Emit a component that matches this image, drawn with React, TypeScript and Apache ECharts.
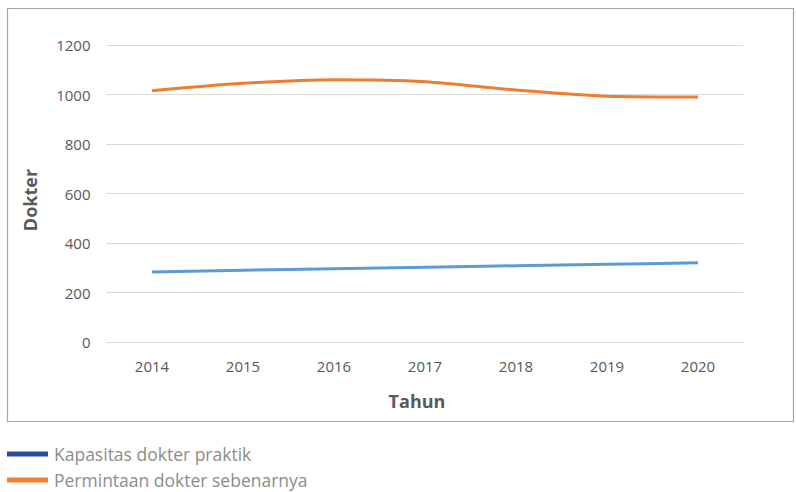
import React, { useEffect, useRef } from "react";
import * as echarts from "echarts";

const years = ["2014", "2015", "2016", "2017", "2018", "2019", "2020"];
const kapasitas = [283, 290, 296, 302, 308, 314, 320];
const permintaan = [1015, 1045, 1060, 1052, 1018, 993, 990];
const seriesNames = ["Kapasitas dokter praktik", "Permintaan dokter sebenarnya"];
const lineColors = ["#5b9bd5", "#ed7d31"];
const legendColors = ["#2e4a9b", "#f08131"];
const xTitle = "Tahun";
const yTitle = "Dokter";

const FONT = "'Open Sans', 'Noto Sans', sans-serif";

export default function App() {
  const ref = useRef<HTMLDivElement>(null);
  useEffect(() => {
    document.body.style.margin = "0";
    const chart = echarts.init(ref.current!, null, { renderer: "svg" });
    const legendTops = [445, 471];
    chart.setOption({
      animation: false,
      textStyle: { fontFamily: FONT },
      grid: { left: 106.5, right: 52.5, top: 45, bottom: 150 },
      graphic: [
        {
          type: "rect",
          shape: { x: 7.5, y: 8.5, width: 786, height: 413 },
          style: { fill: "none", stroke: "#a6a6a6", lineWidth: 1.2 },
          silent: true,
        },
        {
          type: "text",
          x: 417,
          y: 401,
          style: {
            text: xTitle,
            fill: "#595959",
            font: `bold 18px ${FONT}`,
            align: "center",
            verticalAlign: "middle",
          },
        },
        {
          type: "text",
          x: 30,
          y: 200,
          rotation: Math.PI / 2,
          style: {
            text: yTitle,
            fill: "#595959",
            font: `bold 18px ${FONT}`,
            align: "center",
            verticalAlign: "middle",
          },
        },
      ],
      legend: seriesNames.map((n, i) => ({
        left: 7,
        top: legendTops[i],
        itemWidth: 41,
        itemHeight: 5,
        icon: "rect",
        padding: 0,
        textStyle: { color: "#8c8c8c", fontSize: 17.5, fontFamily: FONT, padding: [0, 0, 0, 1] },
        data: [{ name: n, itemStyle: { color: legendColors[i] } }],
      })),
      xAxis: {
        type: "category",
        data: years,
        boundaryGap: true,
        axisLine: { show: false },
        axisTick: { show: false },
        axisLabel: { color: "#595959", fontSize: 15, margin: 16, fontFamily: FONT },
      },
      yAxis: {
        type: "value",
        min: 0,
        max: 1200,
        interval: 200,
        axisLine: { show: false },
        axisTick: { show: false },
        splitLine: { lineStyle: { color: "#d9d9d9", width: 1 } },
        axisLabel: {
          color: "#595959",
          fontSize: 15,
          margin: 16,
          fontFamily: FONT,
          formatter: (v: number) => String(v),
        },
      },
      series: [
        {
          name: seriesNames[0],
          type: "line",
          data: kapasitas,
          smooth: 0.3,
          symbol: "none",
          lineStyle: { color: lineColors[0], width: 3 },
          itemStyle: { color: lineColors[0] },
        },
        {
          name: seriesNames[1],
          type: "line",
          data: permintaan,
          smooth: 0.3,
          symbol: "none",
          lineStyle: { color: lineColors[1], width: 3 },
          itemStyle: { color: lineColors[1] },
        },
      ],
    });
    return () => chart.dispose();
  }, []);
  return <div ref={ref} style={{ width: 796, height: 492 }} />;
}
